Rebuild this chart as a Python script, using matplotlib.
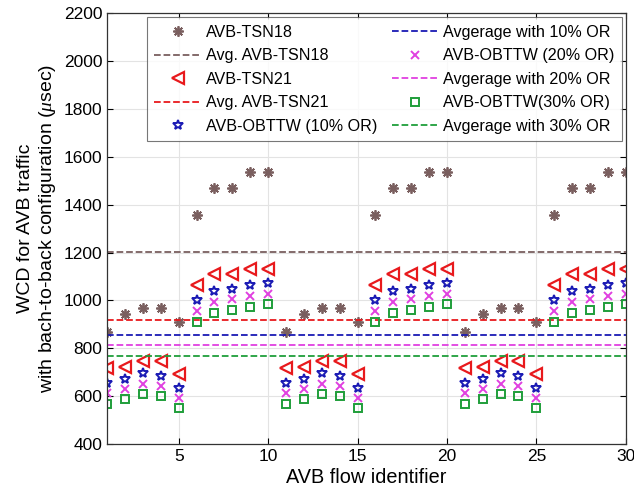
import matplotlib
matplotlib.use("Agg")
import matplotlib.pyplot as plt
import numpy as np

plt.rcParams['font.family'] = ['Liberation Sans', 'DejaVu Sans']
plt.rcParams['mathtext.fontset'] = 'custom'
plt.rcParams['mathtext.it'] = 'Liberation Serif:italic'

flows = list(range(1, 31))
base_tsn18 = [867, 944, 967, 967, 911, 1357, 1471, 1471, 1537, 1537]
base_tsn21 = [718, 724, 747, 747, 693, 1063, 1109, 1109, 1133, 1133]
base_or10 = [654, 671, 696, 686, 636, 1002, 1039, 1049, 1063, 1074]
base_or20 = [612, 630, 651, 643, 594, 957, 992, 1005, 1017, 1027]
base_or30 = [569, 589, 610, 601, 553, 911, 946, 960, 974, 984]
tsn18 = base_tsn18 * 3
tsn21 = base_tsn21 * 3
or10 = base_or10 * 3
or20 = base_or20 * 3
or30 = base_or30 * 3
avg_tsn18 = 1202
avg_tsn21 = 917
avg_or10 = 857
avg_or20 = 814
avg_or30 = 770

c_grey = '#7a5f5f'
c_red = '#e8191c'
c_blue = '#1a1ab4'
c_mag = '#e040e0'
c_green = '#1f9e3a'

fig = plt.figure(figsize=(6.34, 5.03), dpi=100)
ax = fig.add_axes([0.169, 0.117, 0.818, 0.857])

x = np.array(flows)
ax.plot(x, tsn18, linestyle='none', marker=(8, 2, 0), markersize=7.5, color=c_grey, markeredgewidth=1.3, label='AVB-TSN18')
ax.plot([1, 30], [avg_tsn18] * 2, '--', color=c_grey, lw=1.3, label='Avg. AVB-TSN18')
ax.plot(x, tsn21, linestyle='none', marker='<', markersize=8, mfc='none', mec=c_red, mew=1.6, label='AVB-TSN21')
ax.plot([1, 30], [avg_tsn21] * 2, '--', color=c_red, lw=1.3, label='Avg. AVB-TSN21')
ax.plot(x, or10, linestyle='none', marker='*', markersize=7.5, mfc='none', mec=c_blue, mew=1.4, label='AVB-OBTTW (10% OR)')
ax.plot([1, 30], [avg_or10] * 2, '--', color=c_blue, lw=1.3, label='Avgerage with 10% OR')
ax.plot(x, or20, linestyle='none', marker='x', markersize=6, color=c_mag, mew=1.4, label='AVB-OBTTW (20% OR)')
ax.plot([1, 30], [avg_or20] * 2, '--', color=c_mag, lw=1.3, label='Avgerage with 20% OR')
ax.plot(x, or30, linestyle='none', marker='s', markersize=6, mfc='none', mec=c_green, mew=1.4, label='AVB-OBTTW(30% OR)')
ax.plot([1, 30], [avg_or30] * 2, '--', color=c_green, lw=1.3, label='Avgerage with 30% OR')

ax.set_xlim(1, 30)
ax.set_ylim(400, 2200)
ax.set_xticks([5, 10, 15, 20, 25, 30])
ax.set_yticks(np.arange(400, 2201, 200))
ax.tick_params(direction='in', labelsize=12.5, length=4, top=True, right=True, labeltop=False, labelright=False)
ax.grid(True, color='#e3e3e3', lw=0.8)
ax.set_axisbelow(True)
for s in ax.spines.values():
    s.set_color('#333333')
    s.set_linewidth(0.9)

ax.set_xlabel('AVB flow identifier', fontsize=14.3, labelpad=3)
ax.set_ylabel('WCD for AVB traffic\nwith bach-to-back configuration ($\\mu$sec)', fontsize=14, labelpad=4)

leg = ax.legend(ncol=2, loc='upper left', bbox_to_anchor=(0.077, 0.99), fontsize=11.6,
                frameon=True, fancybox=False, edgecolor='#555555', handlelength=2.9,
                labelspacing=0.53, columnspacing=0.9, handletextpad=0.3, borderpad=0.45,
                borderaxespad=0)
leg.get_frame().set_linewidth(0.8)

fig.savefig('out.png', dpi=100)
